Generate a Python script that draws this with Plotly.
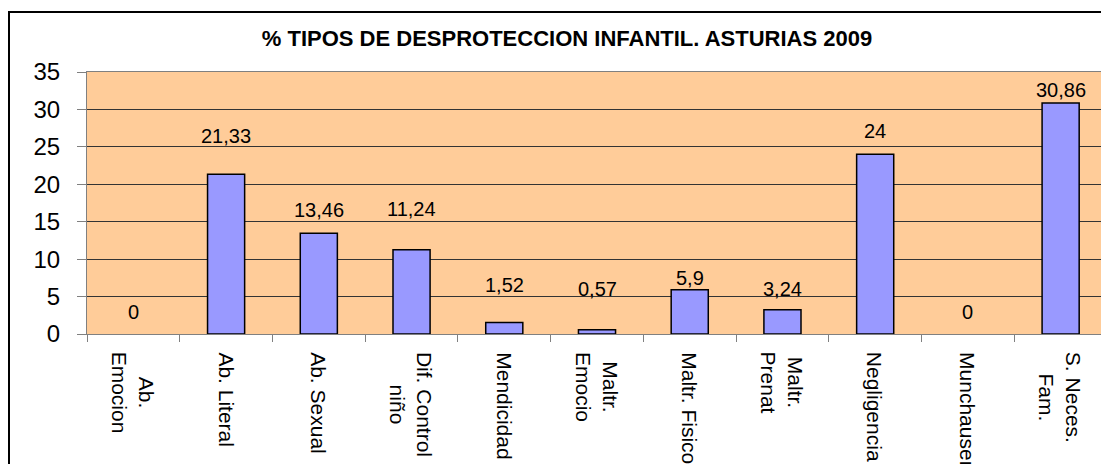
import plotly.graph_objects as go

# ---- data ----
categories = ["Ab. Emocion", "Ab. Literal", "Ab. Sexual", "Dif. Control niño",
              "Mendicidad", "Maltr. Emocio", "Maltr. Fisico", "Maltr. Prenat",
              "Negligencia", "Munchausen", "S. Neces. Fam."]
category_labels = ["Ab.<br>Emocion", "Ab. Literal", "Ab. Sexual", "Dif. Control<br>niño",
                   "Mendicidad", "Maltr.<br>Emocio", "Maltr. Fisico", "Maltr.<br>Prenat",
                   "Negligencia", "Munchausen", "S. Neces.<br>Fam."]
values = [0, 21.33, 13.46, 11.24, 1.52, 0.57, 5.9, 3.24, 24, 0, 30.86]
value_labels = ["0", "21,33", "13,46", "11,24", "1,52", "0,57", "5,9", "3,24", "24", "0", "30,86"]
title_text = "% TIPOS DE DESPROTECCION INFANTIL. ASTURIAS 2009"

# ---- style ----
label_offsets_px = [22, 38, 23, 41, 38, 41, 12, 21, 23, 22, 13]
FONT = "Liberation Sans, Arial, sans-serif"
W, H = 1101, 456          # page body adds an 8px margin
L, R, T, B = 79, 2, 64, 130
PW, PH = W - L - R, H - T - B

fig = go.Figure()
fig.add_trace(go.Bar(
    x=categories, y=values,
    marker=dict(color="#9999FF",
                line=dict(color="#000000",
                          width=[1.5 if v > 0 else 0 for v in values])),
    hoverinfo="skip",
))

annotations = []
for cat, v, lab, off in zip(categories, values, value_labels, label_offsets_px):
    annotations.append(dict(x=cat, y=v, xref="x", yref="y", text=lab,
                            showarrow=False, yanchor="middle", yshift=off,
                            font=dict(family=FONT, size=20, color="#000000")))
for cat, lab in zip(categories, category_labels):
    annotations.append(dict(x=cat, y=0, xref="x", yref="paper", text=lab,
                            showarrow=False, textangle=90, align="center",
                            xanchor="center", yanchor="top", yshift=-16,
                            font=dict(family=FONT, size=21, color="#000000")))

fig.update_layout(
    width=W, height=H,
    margin=dict(l=L, r=R, t=T, b=B, autoexpand=False),
    paper_bgcolor="#FFFFFF", plot_bgcolor="#FFCC99",
    bargap=0.6, showlegend=False,
    title=dict(text="<b>" + title_text + "</b>", xref="container", yref="container",
               x=559 / W, y=1 - 30 / H, xanchor="center", yanchor="middle",
               font=dict(family=FONT, size=22, color="#000000")),
    annotations=annotations,
    shapes=[dict(type="rect", xref="paper", yref="paper",
                 x0=(1 - L) / PW, x1=1.05, y0=-0.8, y1=(T + PH - 4) / PH,
                 line=dict(color="#000000", width=2), fillcolor="rgba(0,0,0,0)",
                 layer="below")],
)
fig.update_xaxes(
    type="category", showticklabels=False, tickson="boundaries",
    ticks="outside", ticklen=7, tickcolor="#808080", tickwidth=1,
    showline=True, linecolor="#808080", linewidth=1, mirror=True,
    showgrid=False, fixedrange=True,
)
fig.update_yaxes(
    range=[0, 35], dtick=5, tick0=0,
    ticks="outside", ticklen=9, tickcolor="#808080", tickwidth=1,
    ticklabelstandoff=12,
    tickfont=dict(family=FONT, size=24, color="#000000"),
    showline=True, linecolor="#808080", linewidth=1, mirror=True,
    showgrid=True, gridcolor="#333333", gridwidth=1, zeroline=False,
    fixedrange=True,
)

fig.write_html("out.html")
